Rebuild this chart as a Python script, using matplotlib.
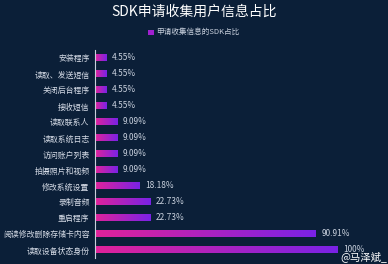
import numpy as np
import matplotlib.pyplot as plt
from matplotlib.colors import LinearSegmentedColormap
from matplotlib.patches import Rectangle

plt.rcParams['font.family'] = ['Noto Sans CJK SC', 'DejaVu Sans']

categories = ['安装程序', '读取、发送短信', '关闭后台程序', '接收短信', '读取联系人',
              '读取系统日志', '访问账户列表', '拍摄照片和视频', '修改系统设置',
              '录制音频', '重启程序', '阅读修改删除存储卡内容', '读取设备状态身份']
values = [4.55, 4.55, 4.55, 4.55, 9.09, 9.09, 9.09, 9.09, 18.18, 22.73, 22.73, 90.91, 100]
value_labels = ['4.55%', '4.55%', '4.55%', '4.55%', '9.09%', '9.09%', '9.09%', '9.09%',
                '18.18%', '22.73%', '22.73%', '90.91%', '100%']

bg = '#0b1f38'
fig = plt.figure(figsize=(3.88, 2.64), dpi=100, facecolor=bg)
ax = fig.add_axes([0.245, 0.023, 0.624, 0.788])
ax.set_facecolor(bg)

cmap = LinearSegmentedColormap.from_list('g', ['#e0239a', '#7a22e6'])
grad = np.linspace(0, 1, 256).reshape(1, -1)

ypos = np.arange(len(categories))[::-1]
bars = ax.barh(ypos, values, height=0.44, color='none')
for b in bars:
    x0, y0 = b.get_x(), b.get_y()
    w, h = b.get_width(), b.get_height()
    im = ax.imshow(grad, aspect='auto', cmap=cmap, extent=[x0, x0 + w, y0, y0 + h],
                   zorder=2)
    clip = Rectangle((x0, y0), w, h, transform=ax.transData, facecolor='none', edgecolor='none')
    ax.add_patch(clip)
    im.set_clip_path(clip)

for y, v, t in zip(ypos, values, value_labels):
    ax.text(v + 2.5, y, t, va='center', ha='left', fontsize=6, color='#c9d1de')

ax.set_xlim(0, 100)
ax.set_ylim(-0.5, len(categories) - 0.5)
ax.set_yticks(ypos)
ax.set_yticklabels(categories, fontsize=5.7, color='#d7dde8')
ax.tick_params(axis='y', length=0, pad=4)
ax.set_xticks([])
for s in ['top', 'right', 'bottom']:
    ax.spines[s].set_visible(False)
ax.spines['left'].set_color('#c8cfdb')
ax.spines['left'].set_linewidth(0.8)

fig.text(0.5, 0.955, 'SDK申请收集用户信息占比', ha='center', va='center',
         fontsize=10, color='white')
fig.patches.append(Rectangle((0.382, 0.868), 0.014, 0.02, transform=fig.transFigure,
                             facecolor='#a020d0', edgecolor='none'))
fig.text(0.403, 0.878, '申请收集信息的SDK占比', ha='left', va='center',
         fontsize=5.5, color='#c9d1de')

fig.text(0.998, 0.028, '@马泽斌_', ha='right', va='center', fontsize=7.5, color='white')

fig.savefig('out.png', dpi=100, facecolor=bg)
